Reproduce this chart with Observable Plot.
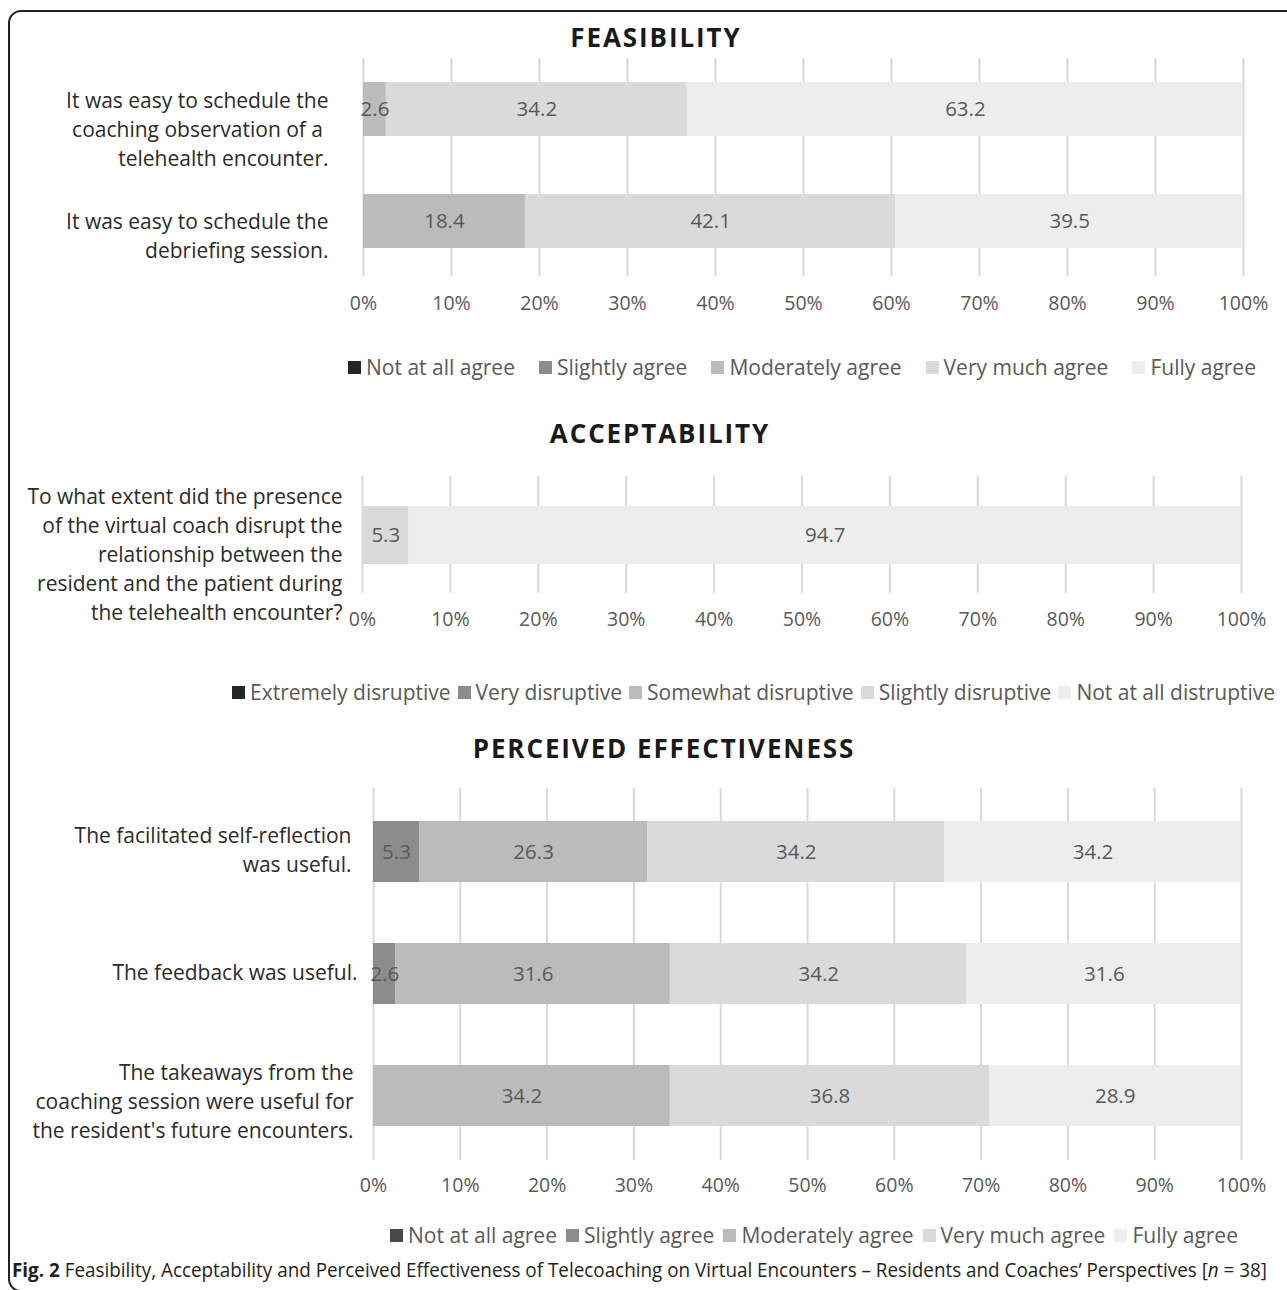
<!DOCTYPE html>
<html>
<head>
<meta charset="utf-8">
<script src="https://cdn.jsdelivr.net/npm/d3@7"></script>
<script src="https://cdn.jsdelivr.net/npm/@observablehq/plot@0.6"></script>
<style>
  html, body { margin: 0; padding: 0; background: #fff; overflow: hidden; }
  #root { position: relative; width: 1287px; height: 1290px; overflow: hidden; font-family: "Open Sans", sans-serif; }
  .frame { position: absolute; left: 8px; top: 10px; width: 1400px; height: 1282px; border: 2px solid #222; border-radius: 13px; box-sizing: border-box; }
  .panel { position: absolute; left: 0; }
  .title { position: absolute; left: 0; width: 1287px; text-align: center; font-weight: 700; font-size: 26px; color: #1a1a1a; letter-spacing: 1.9px; line-height: 1; }
  .legend { position: absolute; display: flex; align-items: center; white-space: nowrap; font-size: 21px; color: #595959; line-height: 1; }
  .legend .sw { display: inline-block; width: 13px; height: 13px; margin-right: 5px; }
  .caption { position: absolute; left: 12px; top: 1258px; white-space: nowrap; font-family: "Liberation Sans Narrow", "Open Sans", sans-serif; font-size: 20px; color: #231f20; transform-origin: left center; line-height: 24px; }
</style>
</head>
<body>
<div id="root">
  <div class="frame"></div>
</div>
<script>
// ---------- DATA ----------
const xTicks = [0, 10, 20, 30, 40, 50, 60, 70, 80, 90, 100];

const agreeCategories = ["Not at all agree", "Slightly agree", "Moderately agree", "Very much agree", "Fully agree"];
const disruptCategories = ["Extremely disruptive", "Very disruptive", "Somewhat disruptive", "Slightly disruptive", "Not at all distruptive"];

const feasibilityQuestions = [
  "It was easy to schedule the\ncoaching observation of a \ntelehealth encounter.",
  "It was easy to schedule the\ndebriefing session."
];
const feasibilityValues = [
  [0, 0, 2.6, 34.2, 63.2],
  [0, 0, 18.4, 42.1, 39.5]
];

const acceptabilityQuestions = [
  "To what extent did the presence\nof the virtual coach disrupt the\nrelationship between the\nresident and the patient during\nthe telehealth encounter?"
];
const acceptabilityValues = [
  [0, 0, 0, 5.3, 94.7]
];

const effectivenessQuestions = [
  "The facilitated self-reflection\nwas useful.",
  "The feedback was useful.",
  "The takeaways from the\ncoaching session were useful for\nthe resident's future encounters."
];
const effectivenessValues = [
  [0, 5.3, 26.3, 34.2, 34.2],
  [0, 2.6, 31.6, 34.2, 31.6],
  [0, 0, 34.2, 36.8, 28.9]
];

const greys = ["#262626", "#8c8c8c", "#bbbbbb", "#dadada", "#ededed"];
const greys3 = ["#4a4a4a", "#8c8c8c", "#bbbbbb", "#dadada", "#ededed"];

// ---------- BUILD ----------
const root = document.getElementById("root");

function table(questions, cats, values) {
  const rows = [];
  questions.forEach((q, i) => cats.forEach((c, j) => rows.push({q, cat: c, value: values[i][j]})));
  return rows;
}

function panel(cfg) {
  const rows = table(cfg.questions, cfg.cats, cfg.values);
  const labelMarks = cfg.questions.map((q, i) =>
    Plot.text([q], {
      x: () => 0, y: d => d, text: d => d,
      textAnchor: "end", lineAnchor: "middle", lineHeight: 1.38,
      fontSize: 21, fill: "#2b2b2b",
      dx: cfg.labelShift[i][0], dy: cfg.labelShift[i][1]
    })
  );
  const chart = Plot.plot({
    width: 1287,
    height: cfg.height,
    marginTop: cfg.marginTop,
    marginBottom: cfg.marginBottom,
    marginLeft: cfg.marginLeft,
    marginRight: cfg.marginRight,
    style: {fontFamily: "Open Sans, sans-serif", fontSize: "19.5px", color: "#595959", background: "transparent", overflow: "visible"},
    x: {domain: [0, 100], axis: null, label: null},
    y: {domain: cfg.questions, range: cfg.yRange, paddingInner: cfg.paddingInner, paddingOuter: 0, axis: null},
    color: {domain: cfg.cats, range: cfg.colors},
    marks: [
      Plot.gridX(xTicks, {stroke: "#d9d9d9", strokeOpacity: 1, strokeWidth: 2}),
      Plot.barX(rows, {x: "value", y: "q", fill: "cat"}),
      Plot.text(rows, Plot.stackX({
        x: "value", y: "q",
        text: d => d.value > 0 ? d.value.toFixed(1) : "",
        fontSize: 20.5, fill: "#595959"
      })),
      Plot.axisX(xTicks, {tickFormat: d => d + "%", tickSize: 0, tickPadding: cfg.tickPadding, fill: "#595959", label: null}),
      ...labelMarks
    ]
  });
  chart.classList.add("panel");
  chart.style.top = cfg.top + "px";
  root.appendChild(chart);
}

function title(text, centerX, centerY) {
  const d = document.createElement("div");
  d.className = "title";
  d.textContent = text;
  d.style.left = (centerX - 643.5 + 1) + "px";
  d.style.top = (centerY - 13.5) + "px";
  root.appendChild(d);
}

function legend(cats, colors, left, centerY, gap) {
  const d = document.createElement("div");
  d.className = "legend";
  d.style.left = left + "px";
  d.style.top = (centerY - 11) + "px";
  d.style.height = "22px";
  cats.forEach((c, i) => {
    const item = document.createElement("span");
    item.style.display = "inline-flex";
    item.style.alignItems = "center";
    if (i > 0) item.style.marginLeft = gap + "px";
    const sw = document.createElement("span");
    sw.className = "sw";
    sw.style.background = colors[i];
    const t = document.createElement("span");
    t.textContent = c;
    item.appendChild(sw); item.appendChild(t);
    d.appendChild(item);
  });
  root.appendChild(d);
}

// Panel 1: Feasibility
title("FEASIBILITY", 655, 37);
panel({
  questions: feasibilityQuestions, cats: agreeCategories, values: feasibilityValues, colors: greys,
  top: 50, height: 275, marginTop: 8, marginBottom: 49, marginLeft: 363, marginRight: 44,
  yRange: [32, 198], paddingInner: 0.518, tickPadding: 20,
  labelShift: [[-35, 18], [-35, 12.5]]
});
legend(agreeCategories, greys, 348, 367, 24);

// Panel 2: Acceptability
title("ACCEPTABILITY", 659, 433);
panel({
  questions: acceptabilityQuestions, cats: disruptCategories, values: acceptabilityValues, colors: greys,
  top: 460, height: 175, marginTop: 16, marginBottom: 42, marginLeft: 362, marginRight: 46,
  yRange: [46, 104], paddingInner: 0, tickPadding: 19,
  labelShift: [[-20, 17]]
});
legend(disruptCategories, greys, 232, 692, 7);

// Panel 3: Perceived effectiveness
title("PERCEIVED EFFECTIVENESS", 663, 748);
panel({
  questions: effectivenessQuestions, cats: agreeCategories, values: effectivenessValues, colors: greys3,
  top: 770, height: 430, marginTop: 18, marginBottom: 40, marginLeft: 373, marginRight: 46,
  yRange: [50, 357], paddingInner: 0.504, tickPadding: 18,
  labelShift: [[-22, -4], [-16, -3], [-20, 4]]
});
legend(agreeCategories, greys3, 390, 1235, 9);

// Caption
const cap = document.createElement("div");
cap.className = "caption";
cap.innerHTML = "<b>Fig. 2</b> Feasibility, Acceptability and Perceived Effectiveness of Telecoaching on Virtual Encounters \u2013 Residents and Coaches\u2019 Perspectives [<i>n</i> = 38]";
root.appendChild(cap);
const w = cap.getBoundingClientRect().width;
cap.style.transform = "scaleX(" + (1255 / w) + ")";
</script>
</body>
</html>
